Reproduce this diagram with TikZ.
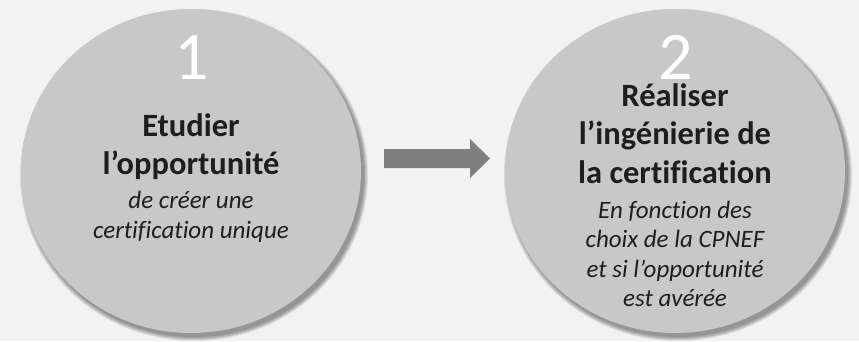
\documentclass[tikz,border=0pt]{standalone}
\usepackage{fontspec}
\setmainfont{Carlito}[RawFeature=-liga]
\usetikzlibrary{shapes.geometric}
\definecolor{fond}{HTML}{F2F2F2}
\definecolor{disque}{HTML}{C8C8C8}
\definecolor{fleche}{HTML}{7F7F7F}
\definecolor{texte}{HTML}{1E1E1E}
\tikzset{
  etape/.style={ellipse, fill=disque, minimum width=340pt, minimum height=324pt, inner sep=0pt},
  chiffre/.style={anchor=base, text=white, inner sep=0pt, font={\fontsize{68pt}{68pt}\selectfont}},
  titre/.style={anchor=base, text=texte, inner sep=0pt, font={\bfseries\fontsize{32.5pt}{38pt}\selectfont}},
  detail/.style={anchor=base, text=texte, inner sep=0pt, font={\itshape\fontsize{25pt}{30pt}\selectfont}}
}
\begin{document}
\begin{tikzpicture}[x=1pt, y=-1pt, line join=round, line cap=round]
		\fill[fond] (0,0) rectangle (859,341);
		\useasboundingbox (0,0) rectangle (859,341);
		% ombres
		\foreach \cx in {191,675}
		{\foreach \r in {0,1,...,4}
			{\fill[black, opacity=0.09] (\cx+3,171+4) ellipse ({170+\r} and {162+\r});}}
		% disques
		\node[etape] (e1) at (191,171) {};
		\node[etape] (e2) at (675,171) {};
		% etape 1
		\node[chiffre] (n1) at (192,79) {1};
		\foreach \t [count=\i] in {Etudier, l’opportunité}
		{\node[titre] (t1-\i) at (191,136+\i*38.5-38.5) {\t};}
		\foreach \t [count=\i] in {de créer une, certification unique}
		{\node[detail] (d1-\i) at (191,208+\i*30-30) {\t};}
		% etape 2
		\node[chiffre] (n2) at (676,79) {2};
		\foreach \t [count=\i] in {Réaliser, l’ingénierie de, la certification}
		{\node[titre] (t2-\i) at (675,106+\i*38.5-38.5) {\t};}
		\foreach \t [count=\i] in {En fonction des, choix de la CPNEF, et si l’opportunité, est avérée}
		{\node[detail] (d2-\i) at (675,218+\i*29.5-29.5) {\t};}
		% fleche
		\coordinate (f0) at (384,158.5);
		\coordinate (f1) at (490,158.5);
		\fill[fleche] (f0) ++(0,-9.5) -- ++(86,0) -- ++(0,-10) -- (f1) -- ++(-20,19.5) -- ++(0,-10) -- ++(-86,0) -- cycle;
\end{tikzpicture}
\end{document}
